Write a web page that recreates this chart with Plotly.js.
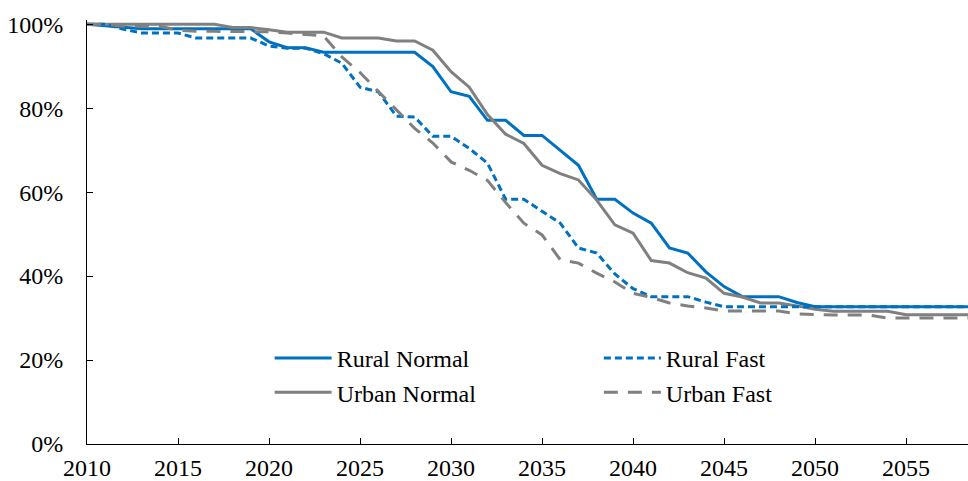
<!DOCTYPE html>
<html>
<head>
<meta charset="utf-8">
<script src="https://cdn.plot.ly/plotly-3.0.1.min.js"></script>
<style>html,body{margin:0;padding:0;background:#fff;}#chart{width:968px;height:481px;}</style>
</head>
<body>
<div id="chart"></div>
<script>
const years = [];
for (let y = 2010; y <= 2060; y++) years.push(y);

const ruralNormal = [100, 99.7, 99.3, 98.9, 98.9, 98.9, 98.9, 98.9, 98.9, 98.9,
  95.8, 94.4, 94.4, 93.3, 93.3, 93.3, 93.3, 93.3, 93.3, 89.9,
  83.9, 82.8, 77.1, 77.1, 73.5, 73.5, 70.0, 66.4, 58.3, 58.3,
  55.0, 52.6, 46.7, 45.5, 41.0, 37.5, 35.1, 35.1, 35.1, 33.7,
  32.7, 32.7, 32.7, 32.7, 32.7, 32.7, 32.7, 32.7, 32.7, 32.7, 32.7];

const ruralFast = [100, 100, 98.8, 97.9, 97.9, 97.9, 96.7, 96.7, 96.7, 96.7,
  94.8, 94.3, 94.3, 93.0, 90.7, 85.0, 83.9, 78.1, 77.9, 73.3,
  73.3, 70.4, 66.9, 58.3, 58.3, 55.4, 52.6, 46.7, 45.5, 40.5,
  37.0, 35.1, 35.1, 35.1, 33.8, 32.7, 32.7, 32.7, 32.7, 32.7,
  32.7, 32.7, 32.7, 32.7, 32.7, 32.7, 32.7, 32.7, 32.7, 32.7, 32.7];

const urbanNormal = [100, 100, 100, 100, 100, 100, 100, 100, 99.2, 99.2,
  98.7, 98.1, 98.1, 98.1, 96.7, 96.7, 96.7, 96.0, 96.0, 93.8,
  88.7, 85.0, 78.5, 73.8, 71.6, 66.4, 64.4, 62.9, 58.1, 52.2,
  50.2, 43.7, 43.1, 40.8, 39.5, 35.9, 35.0, 33.6, 33.6, 32.9,
  32.1, 31.6, 31.6, 31.6, 31.6, 30.8, 30.8, 30.8, 30.8, 30.8, 30.8];

const urbanFast = [100, 100, 99.5, 99.5, 99.5, 98.6, 98.3, 98.3, 98.3, 98.3,
  98.2, 97.9, 97.5, 97.2, 92.2, 88.5, 84.0, 79.5, 75.2, 71.7,
  67.2, 65.2, 62.8, 57.5, 52.6, 49.8, 43.9, 43.1, 40.7, 38.6,
  35.9, 34.9, 33.6, 32.9, 32.4, 31.7, 31.7, 31.7, 31.7, 31.0,
  30.8, 30.7, 30.7, 30.7, 30.0, 30.0, 30.0, 30.0, 30.0, 30.0, 30.0];

const xTickVals = [2010, 2015, 2020, 2025, 2030, 2035, 2040, 2045, 2050, 2055];
const yTickVals = [0, 20, 40, 60, 80, 100];
const yTickText = ['0%', '20%', '40%', '60%', '80%', '100%'];

const names = ['Rural Normal', 'Rural Fast', 'Urban Normal', 'Urban Fast'];
const blue = '#0070C0';
const gray = '#808080';
const FONT = 'Liberation Serif, Times New Roman, serif';

const traces = [
  {x: years, y: ruralNormal, name: names[0], mode: 'lines', line: {color: blue, width: 3}, legend: 'legend', legendrank: 1},
  {x: years, y: urbanNormal, name: names[2], mode: 'lines', line: {color: gray, width: 3}, legend: 'legend', legendrank: 2},
  {x: years, y: ruralFast, name: names[1], mode: 'lines', line: {color: blue, width: 3, dash: '7px,4px'}, legend: 'legend2', legendrank: 1},
  {x: years, y: urbanFast, name: names[3], mode: 'lines', line: {color: gray, width: 3, dash: '14px,10px'}, legend: 'legend2', legendrank: 2}
];

const legendCommon = {
  orientation: 'v', yanchor: 'top', xanchor: 'left',
  bgcolor: 'rgba(0,0,0,0)', borderwidth: 0,
  font: {family: FONT, size: 24, color: '#000'},
  itemwidth: 57, tracegroupgap: 0, traceorder: 'normal'
};

const layout = {
  width: 968, height: 481,
  margin: {l: 87, r: 0, t: 20, b: 37},
  paper_bgcolor: '#fff', plot_bgcolor: '#fff',
  font: {family: FONT, size: 24, color: '#000'},
  hovermode: false,
  xaxis: {
    range: [2010, 2058.4], tickmode: 'array', tickvals: xTickVals, ticktext: xTickVals.map(String),
    ticks: 'inside', ticklen: 6, tickcolor: '#000', tickwidth: 1,
    showline: true, linecolor: '#000', linewidth: 1, showgrid: false, zeroline: false,
    tickfont: {family: FONT, size: 24, color: '#000'}, ticklabelstandoff: 2
  },
  yaxis: {
    range: [0, 101], tickmode: 'array', tickvals: yTickVals, ticktext: yTickText,
    ticks: 'inside', ticklen: 6, tickcolor: '#000', tickwidth: 1,
    showline: true, linecolor: '#000', linewidth: 1, showgrid: false, zeroline: false,
    tickfont: {family: FONT, size: 24, color: '#000'}, ticklabelstandoff: 18
  },
  showlegend: true,
  legend: Object.assign({}, legendCommon, {x: 0.2073, y: 0.255}),
  legend2: Object.assign({}, legendCommon, {x: 0.581, y: 0.255})
};

Plotly.newPlot('chart', traces, layout, {displayModeBar: false, staticPlot: true});
</script>
</body>
</html>
